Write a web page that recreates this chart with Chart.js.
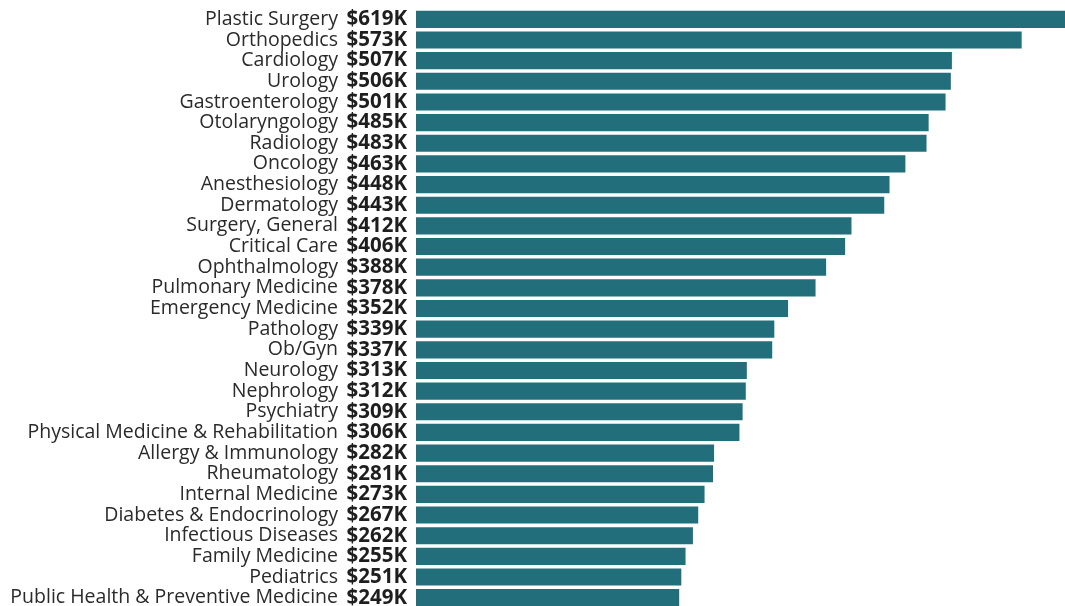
<!DOCTYPE html>
<html>
<head>
<meta charset="utf-8">
<script src="https://cdn.jsdelivr.net/npm/chart.js@4/dist/chart.umd.min.js"></script>
<style>
  html, body { margin: 0; padding: 0; background: #fff; overflow: hidden; }
</style>
</head>
<body>
<canvas id="myChart" width="1065" height="608"></canvas>
<script>
// specialties, top to bottom
let specialties = [
    'Plastic Surgery', 'Orthopedics', 'Cardiology', 'Urology', 'Gastroenterology',
    'Otolaryngology', 'Radiology', 'Oncology', 'Anesthesiology', 'Dermatology',
    'Surgery, General', 'Critical Care', 'Ophthalmology', 'Pulmonary Medicine',
    'Emergency Medicine', 'Pathology', 'Ob/Gyn', 'Neurology', 'Nephrology',
    'Psychiatry', 'Physical Medicine & Rehabilitation', 'Allergy & Immunology',
    'Rheumatology', 'Internal Medicine', 'Diabetes & Endocrinology',
    'Infectious Diseases', 'Family Medicine', 'Pediatrics',
    'Public Health & Preventive Medicine'
];

// average compensation, $K
let pay = [619, 573, 507, 506, 501, 485, 483, 463, 448, 443, 412, 406, 388, 378,
    352, 339, 337, 313, 312, 309, 306, 282, 281, 273, 267, 262, 255, 251, 249];

let fontFam = '"Open Sans", "Noto Sans", sans-serif';

// names + bold $ values, placed on the y scale
const rowLabels = {
    id: 'rowLabels',
    afterDraw(chart) {
        const c = chart.ctx;
        const y = chart.scales.y;
        c.save();
        c.textAlign = 'right';
        c.textBaseline = 'middle';
        specialties.forEach((name, i) => {
            const py = y.getPixelForValue(i);
            c.font = '19.5px ' + fontFam;
            c.fillStyle = '#2a2a2a';
            c.fillText(name, 338, py);
            c.font = 'bold 20.5px ' + fontFam;
            c.fillStyle = '#1e1e1e';
            c.fillText('$' + pay[i] + 'K', 407, py);
        });
        c.restore();
    }
};

let ctx = document.getElementById('myChart');
let chart = new Chart(ctx, {
    type: 'bar',
    data: {
        labels: specialties,
        datasets: [{
            data: pay,
            backgroundColor: '#226f7b',
            borderWidth: 0,
            barPercentage: 0.83,
            categoryPercentage: 1
        }]
    },
    options: {
        indexAxis: 'y',
        responsive: false,
        animation: false,
        layout: {padding: {left: 0, right: 0, top: 9, bottom: 0}},
        plugins: {legend: {display: false}, tooltip: {enabled: false}},
        scales: {
            x: {
                display: false,
                min: 0,
                max: 614
            },
            y: {
                grid: {display: false, drawTicks: false},
                border: {display: false},
                ticks: {display: false, autoSkip: false},
                afterFit(scale) { scale.width = 416; }
            }
        }
    },
    plugins: [rowLabels]
});
</script>
</body>
</html>
